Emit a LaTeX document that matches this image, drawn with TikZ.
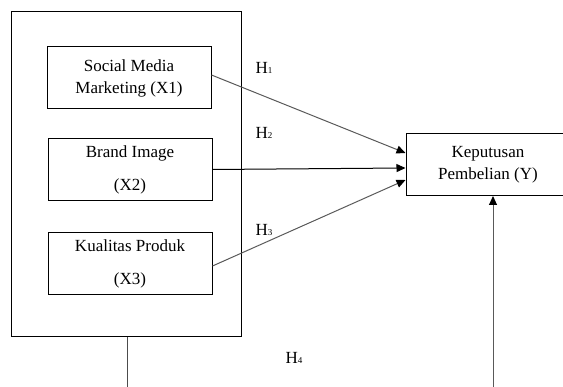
\documentclass[tikz,border=0pt]{standalone}
\usepackage{fontspec}
\setmainfont{Liberation Serif}
\usetikzlibrary{arrows.meta}

\newcommand{\hyp}[1]{H\raisebox{-0.1ex}{\fontsize{9}{9}\selectfont #1}}

\begin{document}
\begin{tikzpicture}[x=1pt, y=-1pt, line width=1pt,
  varbox/.style={draw, rectangle, minimum width=164pt, minimum height=62pt, align=center, inner sep=0pt},
  path/.style={draw=black!65, -{Triangle[length=9pt, width=8pt, black]}}]
\clip (0,0) rectangle (563,387);
\fontsize{17}{22}\selectfont
% Boxes
\node[draw, rectangle, minimum width=230pt, minimum height=325pt] (frame) at (126,174.5) {};
\node[varbox] (smm) at (129,78) {Social Media\\Marketing (X1)};
\node[varbox] (brand) at (130,169.5) {\raisebox{-3pt}{Brand Image}\\[11pt]\raisebox{-3pt}{(X2)}};
\node[varbox] (produk) at (130,263.5) {Kualitas Produk\\[11pt](X3)};
\node[varbox] (keputusan) at (488,164.5) {Keputusan\\Pembelian (Y)};
\coordinate (frameout) at (127,395);
\coordinate (ybottom) at (493,395);

% Arrows
\draw[path] ([yshift=3pt]smm.east) -- ([yshift=11.5pt]keputusan.west);
\draw[path, draw=black] (brand.east) -- ([yshift=-3.5pt]keputusan.west);
\draw[path] ([yshift=-2.5pt]produk.east) -- ([yshift=-15.5pt]keputusan.west);
\draw[black!70] ([xshift=1pt]frame.south) -- (frameout);
\draw[path] (ybottom) -- ([xshift=5pt]keputusan.south);

% Labels
\node (h1) at (264,68) {\hyp{1}};
\node (h2) at (264,133) {\hyp{2}};
\node (h3) at (264,230) {\hyp{3}};
\node (h4) at (294,358) {\hyp{4}};

\end{tikzpicture}
\end{document}
